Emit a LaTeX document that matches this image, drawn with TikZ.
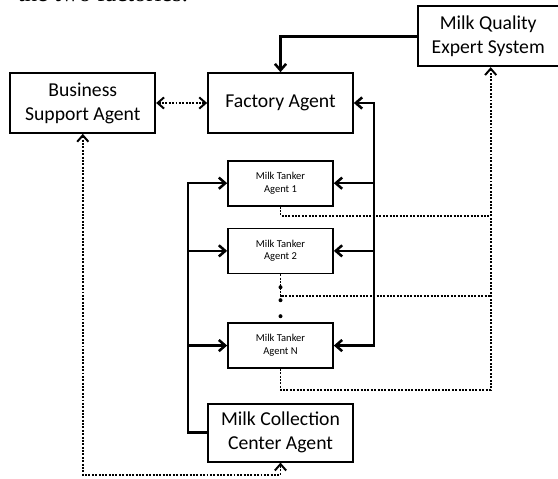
\documentclass[tikz,border=0pt]{standalone}
\usepackage{fontspec}
\setmainfont{Carlito}
\newfontfamily\captionserif{Liberation Serif}
\usepackage{tikz}
\usetikzlibrary{arrows.meta,positioning}

\begin{document}
\begin{tikzpicture}[
    >={Straight Barb[length=1.6mm,width=2.8mm]},
    box/.style={draw, rectangle, line width=1.2pt, align=center,
                minimum width=3.625cm, minimum height=1.5cm,
                font=\fontsize{14}{17}\selectfont},
    tanker/.style={box, minimum width=2.625cm, minimum height=1.125cm,
                font=\fontsize{7.5}{9}\selectfont},
    arrow/.style={line width=1.8pt},
    dots/.style={densely dotted, line width=1.4pt}
]
\useasboundingbox (-7.0125,-9.375) rectangle (6.9375,2.575);

\node[anchor=base west, font=\captionserif\fontsize{17.5}{21}\selectfont]
    (caption) at (-6.6875,2.53) {the two factories.};

\node[box] (factory) {Factory Agent};
\node[box, left=1.275cm of factory] (business) {Business\\Support Agent};
\node[box, minimum width=3.525cm, above right=0.125cm and 1.575cm of factory.north east]
    (expert) {Milk Quality\\Expert System};
\node[tanker, below=0.65cm of factory] (tank1) {Milk Tanker\\Agent 1};
\node[tanker, below=0.525cm of tank1]  (tank2) {Milk Tanker\\Agent 2};
\node[tanker, below=1.2cm of tank2]    (tankn) {Milk Tanker\\Agent N};
\node[box, minimum height=1.45cm, below=0.85cm of tankn] (collect) {Milk Collection\\Center Agent};

\coordinate[left=0.975cm of tank1.west] (lbus);
\coordinate[right=1cm of tank1.east]    (rbus);
\coordinate[right=0.0625cm of expert.south] (xin);

% dots between agent 2 and agent N
\foreach \dy in {0.325,0.65,1.05}
    \fill (tank2.south) ++(0,-\dy) circle (0.05);

\draw[arrow, ->] (expert.west) -| (factory.north);
\draw[dots, <->] (business.east) -- (factory.west);

\draw[arrow, <->] (tankn.east) -- (tankn.east -| rbus) |- (factory.east);
\draw[arrow, ->] (tank1.east -| rbus) -- (tank1.east);
\draw[arrow, ->] (tank2.east -| rbus) -- (tank2.east);

\draw[arrow, ->] (collect.west) -- (collect.west -| lbus) |- (tank1.west);
\draw[arrow, ->] (tank2.west -| lbus) -- (tank2.west);
\draw[arrow, ->] (tankn.west -| lbus) -- (tankn.west);

\draw[dots, ->] (tankn.south) -- ++(0,-0.525) -| (xin);
\draw[dots] (tank1.south) -- ++(0,-0.225) coordinate (t1low) -- (t1low -| xin);
\draw[dots] (tank2.south) -- ++(0,-0.55) coordinate (t2low) -- (t2low -| xin);

\draw[dots, <->] (business.south) -- ++(0,-8.525) -| (collect.south);
\end{tikzpicture}
\end{document}
